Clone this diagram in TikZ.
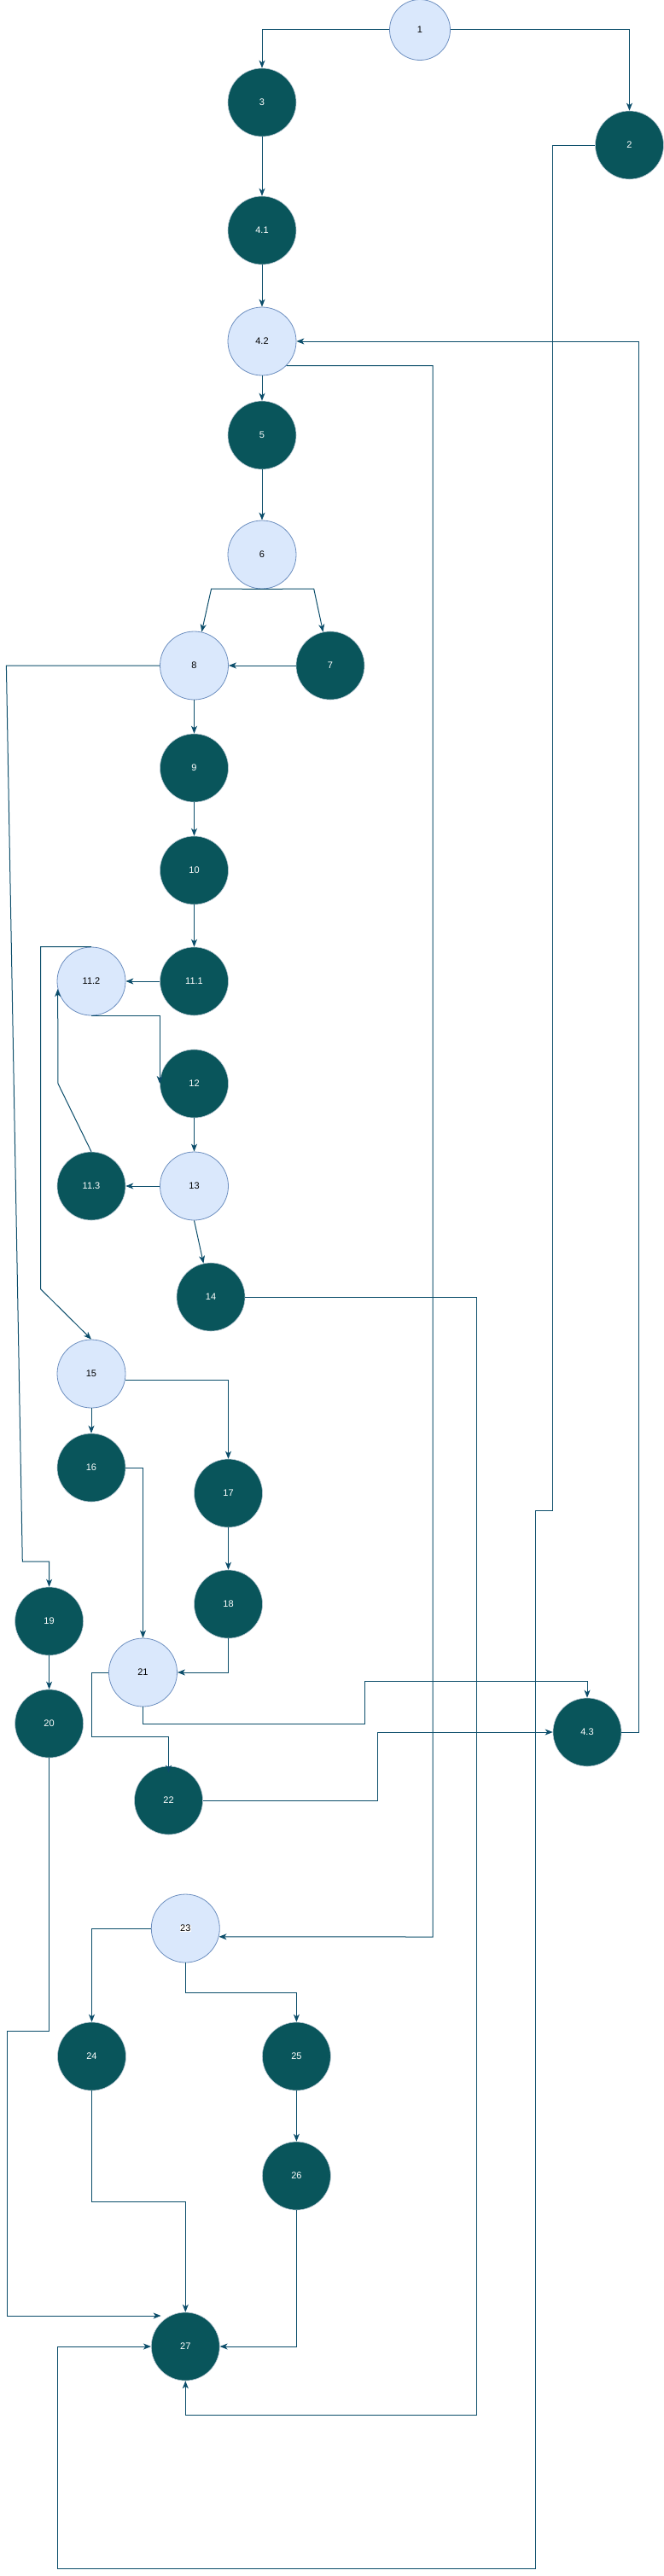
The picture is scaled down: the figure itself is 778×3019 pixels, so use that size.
\documentclass[tikz,border=0pt]{standalone}
\usepackage{fontspec}
\setmainfont{Liberation Sans}
\usetikzlibrary{arrows.meta}
\definecolor{edgecol}{HTML}{0B4D6A}
\definecolor{darkfill}{HTML}{09555B}
\definecolor{darkline}{HTML}{BAC8D3}
\definecolor{lightfill}{HTML}{DAE8FC}
\definecolor{lightline}{HTML}{6C8EBF}
\begin{document}
\begin{tikzpicture}[x=1pt,y=-1pt,
  every node/.style={font=\fontsize{11}{13}\selectfont},
  lnode/.style={circle,minimum size=80pt,inner sep=0pt,fill=lightfill,draw=lightline,line width=0.8pt,text=black},
  dnode/.style={circle,minimum size=80pt,inner sep=0pt,fill=darkfill,draw=darkline,line width=0.6pt,text=white},
  conn/.style={draw=edgecol,line width=1pt,-{Stealth[length=9pt,width=7pt,inset=2.5pt]}}]
\useasboundingbox (0,0) rectangle (778,3019);
% nodes
\node[lnode,minimum size=71pt] (n1) at (492,35) {1};
\node[dnode] (n3) at (307,120) {3};
\node[dnode] (n2) at (737.5,170) {2};
\node[dnode] (n41) at (307,270) {4.1};
\node[lnode] (n42) at (307,400) {4.2};
\node[dnode] (n5) at (307,510) {5};
\node[lnode] (n6) at (307,650) {6};
\node[lnode] (n8) at (227.5,780) {8};
\node[dnode] (n7) at (387,780) {7};
\node[dnode] (n9) at (227.5,900) {9};
\node[dnode] (n10) at (227.5,1020) {10};
\node[dnode] (n111) at (227.5,1150) {11.1};
\node[lnode] (n112) at (107,1150) {11.2};
\node[dnode] (n12) at (227.5,1270) {12};
\node[lnode] (n13) at (227.5,1390) {13};
\node[dnode] (n113) at (107,1390) {11.3};
\node[dnode] (n14) at (247,1520) {14};
\node[lnode] (n15) at (107,1610) {15};
\node[dnode] (n16) at (107,1720) {16};
\node[dnode] (n17) at (267.5,1750) {17};
\node[dnode] (n18) at (267.5,1880) {18};
\node[dnode] (n19) at (57.6,1900) {19};
\node[lnode] (n21) at (167.5,1960) {21};
\node[dnode] (n20) at (57.6,2020) {20};
\node[dnode] (n43) at (688,2030) {4.3};
\node[dnode] (n22) at (197.5,2110) {22};
\node[lnode] (n23) at (217.3,2260) {\setlength{\fboxsep}{0.5pt}\colorbox{white}{23}};
\node[dnode] (n24) at (107.5,2410) {24};
\node[dnode] (n25) at (347.4,2410) {25};
\node[dnode] (n26) at (347.4,2550) {26};
\node[dnode] (n27) at (217.3,2750) {27};
\coordinate (c27in) at (188.6,2714);
% edges
\path[conn] (n1.west) -| (n3.north);
\path[conn] (n1.east) -| (n2.north);
\path[conn] (n3) -- (n41);
\path[conn] (n41) -- (n42);
\path[conn] (n42) -- (n5);
\path[conn] (n5) -- (n6);
\path[conn] (n6.south) -- (247.6,690) -- (n8);
\path[conn] (n6.south) -- (367.7,690) -- (n7);
\path[conn] (n7) -- (n8);
\path[conn] (n8.west) -- (7.4,780) -- (26.3,1830) -| (n19.north);
\path[conn] (n8) -- (n9);
\path[conn] (n9) -- (n10);
\path[conn] (n10) -- (n111);
\path[conn] (n111) -- (n112);
\path[conn] (n112.south) -| (n12.west);
\path[conn] (n112.north) -| (47.6,1510.7) -- (n15.north);
\path[conn] (n113.north) -- (68,1270) -- (n112.193);
\path[conn] (n12) -- (n13);
\path[conn] (n13) -- (n113);
\path[conn] (n13.south) -- (n14);
\path[conn] (n14.east) -| (558.8,2830.3) -| (n27.south);
\path[conn] (n15) -- (n16);
\path[conn] (n15.-10) -| (n17.north);
\path[conn] (n16.east) -| (n21.north);
\path[conn] (n17) -- (n18);
\path[conn] (n18.south) |- (n21.east);
\path[conn] (n19) -- (n20);
\path[conn] (n21.south) -- ++(0,20.3) -| (427.8,1970.3) -| (n43.north);
\path[conn] (n21.west) -| (107.7,2035.3) -| ([yshift=-8pt]n22.north);
\path[conn] (n22.east) -| (442.7,2030) -- (n43.west);
\path[conn] (n43.east) -| (748,400) -- (n42.east);
\path[conn] (n42.south east) -| (507.2,2270) -- (n23.-14.5);
\path[conn] (n2.west) -| (647.6,1770) -| (627.8,3010) -| (67,2750) -- (n27.west);
\path[conn] (n20.south) |- (8.4,2380.3) |- (c27in);
\path[conn] (n23.west) -| (n24.north);
\path[conn] (n23.south) -- ++(0,35.3) -| (n25.north);
\path[conn] (n25) -- (n26);
\path[conn] (n24.south) -- ++(0,130.3) -| (n27.north);
\path[conn] (n26.south) |- (n27.east);
\end{tikzpicture}
\end{document}
